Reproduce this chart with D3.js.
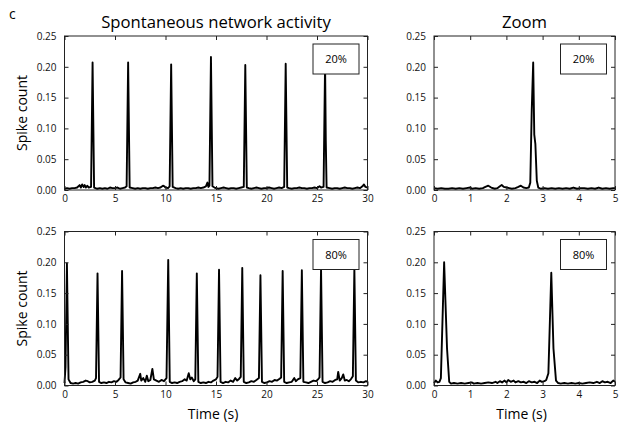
<!DOCTYPE html>
<html>
<head>
<meta charset="utf-8">
<script src="https://cdn.jsdelivr.net/npm/d3@7"></script>
<style>
  body { margin: 0; background: #fff; }
  svg { display: block; font-family: "Open Sans", sans-serif; }
</style>
</head>
<body>
<script>
// spike count traces, [time (s), count]
const act20 = [
  [0,.002],[.25,.003],[.5,.002],[.75,.003],[1,.003],[1.25,.004],[1.5,.008],[1.62,.004],[1.75,.009],[1.9,.005],
  [2,.008],[2.12,.004],[2.25,.007],[2.4,.004],[2.63,.005],[2.78,.207],[2.93,.004],[3.25,.002],[3.5,.003],[3.75,.002],
  [4,.003],[4.25,.002],[4.5,.004],[4.75,.003],[5,.003],[5.25,.004],[5.5,.002],[5.75,.003],[6,.004],[6.15,.006],
  [6.3,.207],[6.45,.004],[6.75,.003],[7,.002],[7.25,.003],[7.5,.002],[7.75,.003],[8,.003],[8.25,.002],[8.5,.003],
  [8.75,.003],[9,.004],[9.25,.003],[9.5,.004],[9.75,.007],[9.9,.006],[10,.004],[10.25,.003],[10.41,.006],[10.56,.204],
  [10.71,.005],[11,.003],[11.25,.002],[11.5,.003],[11.75,.002],[12,.003],[12.25,.003],[12.5,.002],[12.75,.003],[13,.003],
  [13.25,.004],[13.5,.003],[13.75,.004],[14,.006],[14.15,.012],[14.25,.005],[14.35,.007],[14.5,.216],[14.65,.006],[14.85,.004],
  [15,.003],[15.25,.002],[15.5,.003],[15.75,.004],[16,.003],[16.25,.002],[16.5,.003],[16.75,.003],[17,.002],[17.25,.003],
  [17.5,.004],[17.75,.005],[17.9,.203],[18.05,.004],[18.25,.003],[18.5,.002],[18.75,.003],[19,.004],[19.25,.003],[19.5,.002],
  [19.75,.003],[20,.003],[20.25,.004],[20.5,.003],[20.75,.002],[21,.003],[21.25,.004],[21.5,.003],[21.75,.005],[21.9,.205],
  [22.05,.004],[22.25,.003],[22.5,.002],[22.75,.003],[23,.003],[23.25,.004],[23.5,.003],[23.75,.003],[24,.002],[24.25,.003],
  [24.5,.003],[24.75,.004],[25,.003],[25.25,.006],[25.4,.004],[25.65,.005],[25.8,.205],[25.87,.08],[25.95,.004],[26.25,.003],
  [26.5,.002],[26.75,.003],[27,.003],[27.25,.002],[27.5,.003],[27.75,.004],[28,.003],[28.25,.003],[28.5,.002],[28.75,.003],
  [29,.004],[29.25,.003],[29.5,.006],[29.65,.009],[29.8,.005],[30,.004]
];

const act80 = [
  [0,.004],[.1,.03],[.24,.198],[.4,.01],[.6,.004],[.85,.003],[1.1,.004],[1.35,.003],[1.6,.005],[1.85,.006],
  [2.1,.008],[2.3,.007],[2.5,.005],[2.75,.006],[3,.008],[3.12,.012],[3.27,.182],[3.42,.006],[3.65,.004],[3.9,.005],
  [4.15,.004],[4.4,.006],[4.65,.005],[4.9,.007],[5.15,.006],[5.35,.009],[5.55,.013],[5.7,.186],[5.85,.01],[6.05,.005],
  [6.3,.004],[6.55,.003],[6.8,.005],[7.05,.006],[7.25,.008],[7.5,.019],[7.6,.008],[7.8,.012],[8,.006],[8.15,.016],
  [8.3,.007],[8.5,.009],[8.7,.027],[8.85,.01],[9.1,.008],[9.35,.006],[9.6,.009],[9.85,.007],[10.1,.012],[10.27,.204],
  [10.42,.006],[10.65,.004],[10.9,.005],[11.15,.004],[11.4,.006],[11.65,.007],[11.9,.01],[12.1,.008],[12.3,.02],[12.45,.01],
  [12.6,.013],[12.8,.007],[12.95,.01],[13.1,.182],[13.25,.006],[13.5,.004],[13.75,.005],[14,.004],[14.25,.006],[14.5,.005],
  [14.75,.008],[15,.01],[15.15,.014],[15.3,.188],[15.45,.006],[15.7,.004],[15.95,.006],[16.2,.005],[16.45,.008],[16.7,.006],
  [16.9,.012],[17.1,.008],[17.3,.011],[17.45,.014],[17.6,.191],[17.75,.006],[18,.004],[18.25,.005],[18.5,.007],[18.75,.006],
  [19,.009],[19.25,.012],[19.4,.179],[19.55,.006],[19.8,.004],[20.05,.005],[20.3,.007],[20.55,.006],[20.8,.009],[21.05,.008],
  [21.3,.011],[21.45,.013],[21.6,.186],[21.75,.006],[22,.004],[22.25,.005],[22.5,.006],[22.75,.012],[22.9,.007],[23.1,.01],
  [23.35,.012],[23.5,.187],[23.65,.006],[23.9,.005],[24.15,.004],[24.4,.006],[24.65,.008],[24.9,.007],[25.1,.01],[25.25,.013],
  [25.4,.19],[25.55,.006],[25.8,.004],[26.05,.005],[26.3,.007],[26.55,.006],[26.8,.009],[27,.01],[27.1,.022],[27.25,.008],
  [27.45,.012],[27.6,.018],[27.75,.008],[27.95,.009],[28.15,.007],[28.35,.01],[28.55,.015],[28.7,.19],[28.85,.008],[29.1,.005],
  [29.35,.006],[29.6,.005],[29.85,.007],[30,.006]
];

const zoom20 = [
  [0,.003],[.1,.002],[.2,.003],[.3,.002],[.4,.002],[.5,.003],[.6,.002],[.7,.003],[.8,.002],[.9,.003],
  [1,.004],[1.05,.002],[1.15,.003],[1.25,.002],[1.35,.003],[1.42,.005],[1.5,.007],[1.58,.004],[1.68,.002],[1.75,.003],
  [1.82,.006],[1.87,.008],[1.93,.005],[2,.004],[2.08,.003],[2.15,.002],[2.25,.003],[2.33,.005],[2.4,.007],[2.47,.004],
  [2.55,.003],[2.62,.004],[2.66,.012],[2.7,.13],[2.74,.207],[2.77,.09],[2.8,.075],[2.84,.015],[2.88,.004],[2.95,.002],
  [3.05,.003],[3.15,.002],[3.25,.003],[3.35,.002],[3.45,.003],[3.55,.002],[3.65,.003],[3.75,.002],[3.85,.004],[3.95,.002],
  [4.05,.003],[4.15,.003],[4.25,.002],[4.35,.003],[4.45,.002],[4.55,.004],[4.65,.002],[4.75,.003],[4.85,.002],[4.95,.003],
  [5,.003]
];

const zoom80 = [
  [0,.004],[.05,.008],[.1,.005],[.15,.006],[.19,.012],[.28,.2],[.36,.06],[.42,.006],[.47,.003],[.55,.004],
  [.65,.003],[.75,.004],[.85,.003],[.95,.004],[1.05,.005],[1.1,.003],[1.2,.004],[1.3,.003],[1.4,.004],[1.5,.005],
  [1.6,.004],[1.7,.006],[1.75,.004],[1.82,.007],[1.88,.005],[1.95,.008],[2,.005],[2.05,.009],[2.12,.006],[2.2,.008],
  [2.25,.005],[2.33,.007],[2.4,.005],[2.48,.006],[2.55,.004],[2.62,.007],[2.7,.005],[2.78,.006],[2.85,.004],[2.92,.008],
  [2.98,.006],[3.05,.007],[3.1,.009],[3.16,.02],[3.24,.183],[3.3,.06],[3.37,.008],[3.43,.004],[3.5,.003],[3.6,.004],
  [3.7,.003],[3.8,.004],[3.9,.003],[4,.004],[4.1,.003],[4.2,.004],[4.3,.005],[4.4,.004],[4.5,.006],[4.58,.004],
  [4.65,.007],[4.72,.005],[4.8,.006],[4.88,.004],[4.95,.008],[5,.006]
];

const yTicks = [0, 0.05, 0.10, 0.15, 0.20, 0.25];
const xTicksLong = [0, 5, 10, 15, 20, 25, 30];
const xTicksZoom = [0, 1, 2, 3, 4, 5];
const titles = ["Spontaneous network activity", "Zoom"];
const labels = ["20%", "80%"];

const W = 619, H = 424;
const svg = d3.select("body").append("svg")
    .attr("width", W)
    .attr("height", H);

const colLeft = { x: 64.5, w: 303, max: 30, ticks: xTicksLong };
const colRight = { x: 434, w: 181, max: 5, ticks: xTicksZoom };
const rows = [36, 231.5];
const plotH = 154;

const panels = [
  { col: colLeft, row: 0, data: act20, label: labels[0], title: titles[0], ylab: true },
  { col: colRight, row: 0, data: zoom20, label: labels[0], title: titles[1] },
  { col: colLeft, row: 1, data: act80, label: labels[1], ylab: true, xlab: true },
  { col: colRight, row: 1, data: zoom80, label: labels[1], xlab: true }
];

panels.forEach(p => {
    const w = p.col.w;
    const g = svg.append("g")
        .attr("transform", `translate(${p.col.x},${rows[p.row]})`);

    const x = d3.scaleLinear().domain([0, p.col.max]).range([0, w]);
    const y = d3.scaleLinear().domain([0, 0.25]).range([plotH, 0]);

    const line = d3.line()
        .x(d => x(d[0]))
        .y(d => y(d[1]));

    g.append("path")
        .datum(p.data)
        .attr("d", line)
        .attr("fill", "none")
        .attr("stroke", "#000")
        .attr("stroke-width", 1.9)
        .attr("stroke-linejoin", "round");

    // axes, ticks pointing inward on all four sides
    const ax = [
      g.append("g").attr("transform", `translate(0,${plotH})`)
        .call(d3.axisBottom(x).tickValues(p.col.ticks).tickSize(-4).tickPadding(5).tickFormat(d3.format("d"))),
      g.append("g")
        .call(d3.axisTop(x).tickValues(p.col.ticks).tickSize(-4).tickFormat("")),
      g.append("g")
        .call(d3.axisLeft(y).tickValues(yTicks).tickSize(-4).tickPadding(8).tickFormat(d3.format(".2f"))),
      g.append("g").attr("transform", `translate(${w},0)`)
        .call(d3.axisRight(y).tickValues(yTicks).tickSize(-4).tickFormat(""))
    ];
    ax.forEach(a => {
        a.select(".domain").remove();
        a.selectAll("line").attr("stroke", "#222");
        a.selectAll("text")
            .attr("fill", "#111")
            .style("font-family", "'Open Sans', sans-serif")
            .style("font-size", "10px");
    });

    g.append("rect")
        .attr("width", w)
        .attr("height", plotH)
        .attr("fill", "none")
        .attr("stroke", "#222")
        .attr("stroke-width", 1);

    // percentage box
    const box = g.append("g")
        .attr("transform", `translate(${w - 54.5},8)`);
    box.append("rect")
        .attr("width", 46)
        .attr("height", 30)
        .attr("fill", "#fff")
        .attr("stroke", "#222");
    box.append("text")
        .attr("x", 23)
        .attr("y", 19)
        .attr("text-anchor", "middle")
        .style("font-size", "11px")
        .text(p.label);

    if (p.title) {
        g.append("text")
            .attr("x", w / 2)
            .attr("y", -8)
            .attr("text-anchor", "middle")
            .style("font-size", "16.7px")
            .text(p.title);
    }
    if (p.ylab) {
        svg.append("text")
            .attr("transform", `translate(27,${rows[p.row] + plotH / 2}) rotate(-90)`)
            .attr("text-anchor", "middle")
            .style("font-size", "14px")
            .text("Spike count");
    }
    if (p.xlab) {
        g.append("text")
            .attr("x", w / 2 - 3)
            .attr("y", plotH + 33)
            .attr("text-anchor", "middle")
            .style("font-size", "14px")
            .text("Time (s)");
    }
});

svg.append("text")
    .attr("x", 9)
    .attr("y", 19)
    .style("font-size", "14px")
    .text("c");
</script>
</body>
</html>
